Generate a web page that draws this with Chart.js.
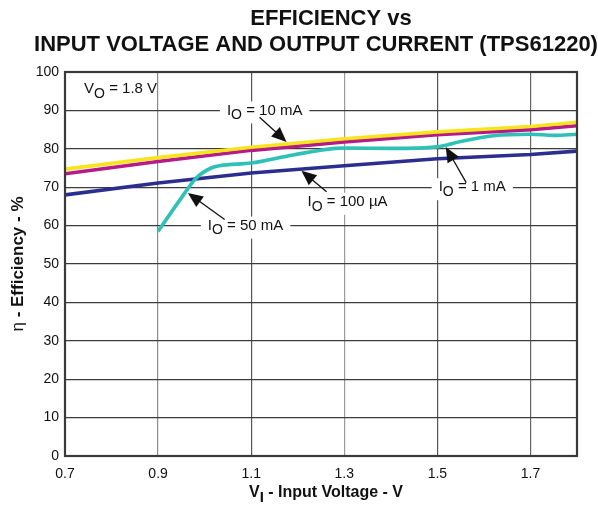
<!DOCTYPE html>
<html>
<head>
<meta charset="utf-8">
<script src="https://cdn.jsdelivr.net/npm/chart.js@4"></script>
<style>
html,body{margin:0;padding:0;background:#fff;}
canvas{display:block;}
</style>
</head>
<body>
<canvas id="c" width="598" height="505"></canvas>
<script>
// ---- data ----
const vinCommon = [0.7, 0.9, 1.1, 1.3, 1.5, 1.7, 1.8];
const eff10mA   = [74.7, 77.7, 80.4, 82.6, 84.4, 85.8, 86.9];
const eff1mA    = [73.5, 76.7, 79.6, 81.8, 83.7, 85.0, 86.0];
const eff100uA  = [68.0, 71.1, 73.7, 75.6, 77.4, 78.5, 79.4];
const vin50mA   = [0.9, 0.947, 0.982, 1.014, 1.032, 1.1, 1.19, 1.28, 1.3, 1.4, 1.5, 1.55, 1.62, 1.7, 1.75, 1.8];
const eff50mA   = [58.5, 66.7, 72.4, 75.0, 75.6, 76.3, 78.4, 80.1, 80.2, 80.1, 80.5, 81.9, 83.4, 83.8, 83.5, 83.8];
const xTickValues = [0.7, 0.9, 1.1, 1.3, 1.5, 1.7];
const titleLines = ['EFFICIENCY vs', 'INPUT VOLTAGE AND OUTPUT CURRENT (TPS61220)'];
const xTitle = [['V', 0], ['I', 1], [' - Input Voltage - V', 0]];
const yTitle = ['\u03B7', ' - Efficiency - %'];

// annotation labels (data coordinates)
const notes = [
  {parts: [['V',0],['O',1],[' = 1.8 V',0]], x: 0.741, y: 95.6, align: 'left', box: false},
  {parts: [['I',0],['O',1],[' = 10 mA',0]], x: 1.129, y: 90, from: [1.118, 88.2], to: [1.176, 81.8]},
  {parts: [['I',0],['O',1],[' = 100 \u00B5A',0]], x: 1.307, y: 66.2, from: [1.262, 68.8], to: [1.208, 74.3]},
  {parts: [['I',0],['O',1],[' = 1 mA',0]], x: 1.575, y: 70, from: [1.562, 71.2], to: [1.518, 80.5]},
  {parts: [['I',0],['O',1],[' = 50 mA',0]], x: 1.088, y: 60, from: [1.043, 61.6], to: [0.964, 68.5]}
];

const pts = (xs, ys) => xs.map((x, i) => ({x: x, y: ys[i]}));
const FONT = '"Liberation Sans", Arial, Helvetica, sans-serif';

function richWidth(ctx, parts, size, bold) {
  let w = 0;
  for (const [t, s] of parts) {
    ctx.font = (bold ? 'bold ' : '') + (s ? size - 1 : size) + 'px ' + FONT;
    w += ctx.measureText(t).width;
  }
  return w;
}
function drawRich(ctx, parts, x, y, size, bold) {
  ctx.textBaseline = 'middle';
  ctx.textAlign = 'left';
  let cx = x;
  for (const [t, s] of parts) {
    ctx.font = (bold ? 'bold ' : '') + (s ? size - 1 : size) + 'px ' + FONT;
    ctx.fillText(t, cx, s ? y + 5 : y);
    cx += ctx.measureText(t).width;
  }
}
function arrow(ctx, x1, y1, x2, y2) {
  const ang = Math.atan2(y2 - y1, x2 - x1);
  const L = 15, W = 6.5;
  ctx.strokeStyle = '#111';
  ctx.fillStyle = '#111';
  ctx.lineWidth = 1.3;
  ctx.beginPath();
  ctx.moveTo(x1, y1);
  ctx.lineTo(x2 - Math.cos(ang) * L * 0.8, y2 - Math.sin(ang) * L * 0.8);
  ctx.stroke();
  ctx.beginPath();
  ctx.moveTo(x2, y2);
  ctx.lineTo(x2 - Math.cos(ang) * L - Math.sin(ang) * W, y2 - Math.sin(ang) * L + Math.cos(ang) * W);
  ctx.lineTo(x2 - Math.cos(ang) * L + Math.sin(ang) * W, y2 - Math.sin(ang) * L - Math.cos(ang) * W);
  ctx.closePath();
  ctx.fill();
}

const decor = {
  id: 'decor',
  beforeDatasetsDraw(chart) {
    const ctx = chart.ctx;
    const xs = chart.scales.x, ys = chart.scales.y;
    ctx.save();
    for (const n of notes) {
      if (n.box === false) continue;
      const w = richWidth(ctx, n.parts, 15, false);
      const cx = xs.getPixelForValue(n.x), cy = ys.getPixelForValue(n.y);
      ctx.fillStyle = '#fff';
      ctx.fillRect(cx - w / 2 - 7, cy - 9, w + 14, 22);
    }
    ctx.restore();
  },
  afterDraw(chart) {
    const ctx = chart.ctx, a = chart.chartArea;
    const xs = chart.scales.x, ys = chart.scales.y;
    ctx.save();
    ctx.strokeStyle = '#3a3a3a';
    ctx.lineWidth = 2.2;
    ctx.strokeRect(a.left, a.top, a.right - a.left, a.bottom - a.top);
    ctx.fillStyle = '#111';
    ctx.textAlign = 'center';
    ctx.textBaseline = 'middle';
    ctx.font = 'bold 22px ' + FONT;
    ctx.fillText(titleLines[0], 331, 19);
    ctx.fillText(titleLines[1], 316, 45);
    for (const n of notes) {
      const w = richWidth(ctx, n.parts, 15, false);
      const cx = xs.getPixelForValue(n.x), cy = ys.getPixelForValue(n.y);
      ctx.fillStyle = '#111';
      const left = n.align === 'left' ? cx : cx - w / 2;
      drawRich(ctx, n.parts, left, cy, 15, false);
      if (n.from) {
        arrow(ctx, xs.getPixelForValue(n.from[0]), ys.getPixelForValue(n.from[1]),
                   xs.getPixelForValue(n.to[0]), ys.getPixelForValue(n.to[1]));
      }
    }
    ctx.fillStyle = '#111';
    const xw = richWidth(ctx, xTitle, 16, true);
    drawRich(ctx, xTitle, (a.left + a.right) / 2 - xw / 2 + 5, 493, 16, true);
    ctx.translate(18, (a.top + a.bottom) / 2);
    ctx.rotate(-Math.PI / 2);
    ctx.font = '17px ' + FONT;
    const w1 = ctx.measureText(yTitle[0]).width;
    ctx.font = 'bold 17px ' + FONT;
    const w2 = ctx.measureText(yTitle[1]).width;
    ctx.textAlign = 'left';
    ctx.textBaseline = 'middle';
    ctx.font = '17px ' + FONT;
    ctx.fillText(yTitle[0], -(w1 + w2) / 2, 0);
    ctx.font = 'bold 17px ' + FONT;
    ctx.fillText(yTitle[1], -(w1 + w2) / 2 + w1, 0);
    ctx.restore();
  }
};

const xGridColors = {0.7: '#333', 0.9: '#8a8a8a', 1.1: '#555', 1.3: '#9a9a9a', 1.5: '#555', 1.7: '#666'};

new Chart(document.getElementById('c'), {
  type: 'line',
  data: {
    datasets: [
      {label: 'IO = 10 mA', data: pts(vinCommon, eff10mA), borderColor: '#f8e41c'},
      {label: 'IO = 1 mA', data: pts(vinCommon, eff1mA), borderColor: '#b51a8a'},
      {label: 'IO = 50 mA', data: pts(vin50mA, eff50mA), borderColor: '#2fc0b6', cubicInterpolationMode: 'monotone'},
      {label: 'IO = 100 \u00B5A', data: pts(vinCommon, eff100uA), borderColor: '#2b2e8e'}
    ]
  },
  options: {
    responsive: false,
    animation: false,
    devicePixelRatio: 1,
    layout: {padding: {top: 72, right: 21, left: 0, bottom: 0}},
    elements: {point: {radius: 0}, line: {borderWidth: 3.6, tension: 0}},
    plugins: {legend: {display: false}, title: {display: false}, tooltip: {enabled: false}},
    scales: {
      x: {
        type: 'linear', min: 0.7, max: 1.8,
        afterBuildTicks: s => { s.ticks = xTickValues.map(v => ({value: v})); },
        afterFit: s => { s.height = 49; },
        grid: {drawTicks: false, color: c => xGridColors[c.tick ? c.tick.value : 0.7] || '#666', lineWidth: 1.2},
        border: {display: false},
        ticks: {padding: 10, color: '#111', font: {size: 14, family: FONT}, callback: v => Number(v).toFixed(1)}
      },
      y: {
        min: 0, max: 100,
        afterFit: s => { s.width = 65; },
        grid: {drawTicks: false, color: '#3c3c3c', lineWidth: 1.2},
        border: {display: false},
        ticks: {stepSize: 10, padding: 6, color: '#111', font: {size: 14, family: FONT}}
      }
    }
  },
  plugins: [decor]
});
</script>
</body>
</html>
